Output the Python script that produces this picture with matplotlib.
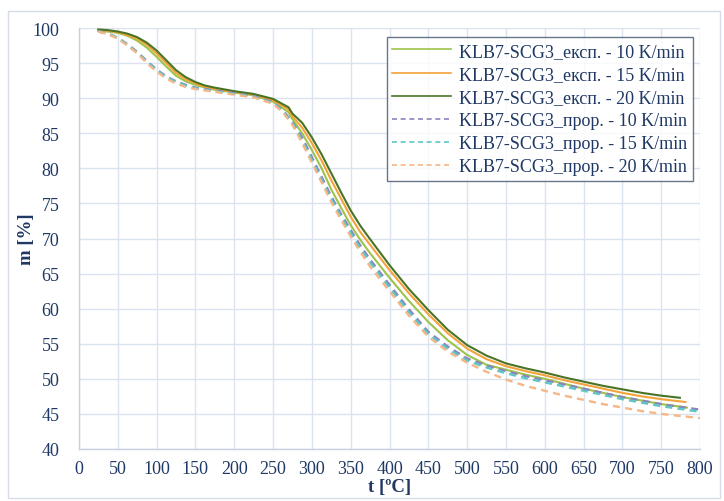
import matplotlib
matplotlib.use("Agg")
import matplotlib.pyplot as plt
from matplotlib.patches import Rectangle

# Measured curves: temperature (°C) and residual mass (%)
t_exp_head = [25, 37.5, 50, 62.5, 75, 87.5, 100, 112.5, 125, 137.5, 150, 162.5, 175,
              200, 225, 250, 270, 275, 287.5, 300, 312.5, 325, 337.5, 350, 362.5, 375,
              400, 425, 450, 475, 500, 525, 550, 575, 600, 625, 650, 675, 700, 725, 750]
t_exp20 = t_exp_head + [774]
m_exp20 = [99.8, 99.7, 99.5, 99.2, 98.7, 97.9, 96.8, 95.4, 94.0, 93.0, 92.3, 91.8, 91.5,
           91.0, 90.6, 89.9, 88.7, 87.8, 86.5, 84.4, 82.0, 79.3, 76.6, 74.0, 71.8, 69.9,
           66.2, 62.8, 59.8, 57.0, 54.8, 53.3, 52.2, 51.5, 50.9, 50.2, 49.6, 49.0, 48.5, 48.0, 47.6,
           47.3]
t_exp15 = t_exp_head + [781]
m_exp15 = [99.7, 99.6, 99.4, 99.0, 98.5, 97.6, 96.4, 95.0, 93.6, 92.7, 92.1, 91.6, 91.3,
           90.9, 90.5, 89.7, 88.4, 87.4, 85.8, 83.6, 81.1, 78.3, 75.7, 73.1, 70.9, 69.1,
           65.5, 62.2, 59.2, 56.5, 54.3, 52.8, 51.8, 51.1, 50.5, 49.8, 49.2, 48.6, 48.0, 47.5, 47.1,
           46.7]
t_exp10 = t_exp_head + [783]
m_exp10 = [99.6, 99.5, 99.3, 98.9, 98.2, 97.2, 95.9, 94.5, 93.2, 92.4, 91.9, 91.5, 91.2,
           90.8, 90.4, 89.5, 88.0, 87.0, 85.0, 82.6, 80.0, 77.0, 74.4, 71.9, 69.8, 67.9,
           64.4, 61.1, 58.1, 55.5, 53.4, 52.0, 51.3, 50.6, 50.0, 49.3, 48.6, 48.0, 47.4, 46.9, 46.4,
           45.9]

# Predicted curves on a common temperature grid
t_pred = [25, 37.5, 50, 62.5, 75, 87.5, 100, 112.5, 125, 137.5, 150, 162.5, 175,
          200, 225, 250, 262.5, 275, 287.5, 300, 312.5, 325, 337.5, 350, 362.5, 375,
          400, 425, 450, 475, 500, 525, 550, 575, 600, 625, 650, 675, 700, 725, 750, 775, 800]
m_pred10 = [99.5, 99.2, 98.6, 97.7, 96.6, 95.3, 94.1, 93.1, 92.4, 91.9, 91.5, 91.3, 91.1,
            90.7, 90.3, 89.4, 88.3, 86.6, 84.4, 81.6, 78.8, 76.0, 73.5, 71.2, 69.0, 67.0,
            63.4, 59.9, 56.7, 54.6, 52.9, 51.9, 51.1, 50.4, 49.8, 49.2, 48.6, 48.0, 47.4, 46.9,
            46.4, 46.0, 45.6]
m_pred15 = [99.5, 99.2, 98.6, 97.6, 96.5, 95.2, 94.0, 93.0, 92.3, 91.8, 91.4, 91.2, 91.0,
            90.6, 90.2, 89.3, 88.2, 86.4, 84.0, 81.2, 78.4, 75.6, 73.1, 70.8, 68.6, 66.6,
            63.0, 59.5, 56.4, 54.3, 52.6, 51.6, 50.8, 50.1, 49.5, 48.9, 48.3, 47.7, 47.1, 46.6,
            46.1, 45.7, 45.3]
m_pred20 = [99.5, 99.1, 98.5, 97.5, 96.4, 95.0, 93.8, 92.8, 92.1, 91.6, 91.3, 91.1, 90.9,
            90.5, 90.1, 89.2, 88.0, 86.2, 83.6, 80.8, 78.0, 75.2, 72.7, 70.3, 68.1, 66.0,
            62.5, 59.0, 56.0, 53.9, 52.3, 51.0, 49.9, 49.0, 48.3, 47.6, 47.0, 46.4, 45.9, 45.4,
            45.0, 44.7, 44.4]

labels = [
    "KLB7-SCG3_експ. - 10 K/min",
    "KLB7-SCG3_експ. - 15 K/min",
    "KLB7-SCG3_експ. - 20 K/min",
    "KLB7-SCG3_прор. - 10 K/min",
    "KLB7-SCG3_прор. - 15 K/min",
    "KLB7-SCG3_прор. - 20 K/min",
]
x_ticks = list(range(0, 801, 50))
y_ticks = list(range(40, 101, 5))

navy = "#1F3864"
plt.rcParams["font.family"] = ["Liberation Serif", "DejaVu Serif"]

fig = plt.figure(figsize=(7.24, 5.02), dpi=100)
ax = fig.add_axes([0.109, 0.1036, 0.858, 0.8386])

dash = (0, (3, 2.2))
series = [
    (t_exp10, m_exp10, "#9CC44C", "-"),
    (t_exp15, m_exp15, "#F4A23A", "-"),
    (t_exp20, m_exp20, "#4A7425", "-"),
    (t_pred, m_pred10, "#8C84BE", dash),
    (t_pred, m_pred15, "#5EC6C6", dash),
    (t_pred, m_pred20, "#F6B685", dash),
]
for (t, m, c, ls), lab in zip(series, labels):
    lw = 1.5 if ls == "-" else 1.7
    ax.plot(t, m, color=c, linestyle=ls, linewidth=lw, label=lab)

ax.set_xlim(0, 800)
ax.set_ylim(40, 100)
ax.set_xticks(x_ticks)
ax.set_yticks(y_ticks)
ax.grid(True, color="#DCE3F0", linewidth=1.0)
ax.set_axisbelow(True)
for side in ["top", "right"]:
    ax.spines[side].set_visible(False)
for side in ["left", "bottom"]:
    ax.spines[side].set_color("#C8D0DE")
    ax.spines[side].set_linewidth(1.0)
ax.tick_params(axis="both", length=0, labelsize=13, colors=navy, pad=8)
ax.tick_params(axis="y", pad=14)

ax.set_xlabel("t [ºC]", fontsize=13.5, fontweight="bold", color=navy, labelpad=1)
ax.set_ylabel("m [%]", fontsize=13.5, fontweight="bold", color=navy, labelpad=-2)

leg = ax.legend(loc="upper right", bbox_to_anchor=(0.988, 0.978), fontsize=13,
                frameon=True, fancybox=False, borderpad=0.3, labelspacing=0.34,
                handlelength=3.25, handletextpad=0.45, borderaxespad=0.0)
leg.get_frame().set_edgecolor("#44546A")
leg.get_frame().set_linewidth(1.0)
for line in leg.get_lines():
    line.set_linewidth(1.2)
for txt in leg.get_texts():
    txt.set_color(navy)

fig.patches.append(Rectangle((0.011, 0.006), 0.984, 0.97, transform=fig.transFigure,
                             fill=False, edgecolor="#D5DCE8", linewidth=1.0))

fig.savefig("out.png", dpi=100)
